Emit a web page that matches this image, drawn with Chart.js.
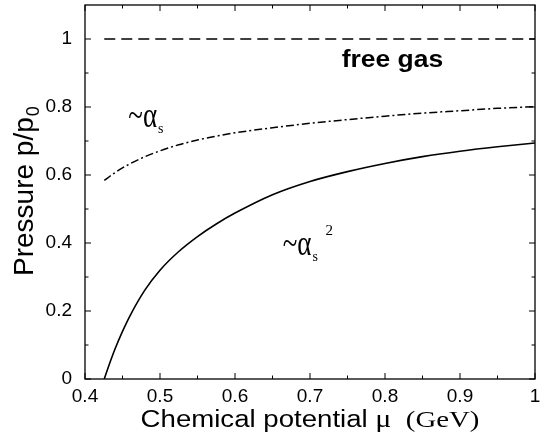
<!DOCTYPE html>
<html lang="en">
<head>
<meta charset="UTF-8">
<title>Pressure vs chemical potential</title>
<script src="https://cdn.jsdelivr.net/npm/chart.js"></script>
<style>
  html, body { margin: 0; padding: 0; background: #fff; }
  #wrap { width: 546px; height: 437px; position: relative; }
</style>
</head>
<body>
<div id="wrap"><canvas id="chart"></canvas></div>
<script>
// chemical potential mu (GeV)
const mu = [0.4257, 0.43, 0.44, 0.45, 0.46, 0.48, 0.5, 0.525, 0.55, 0.575, 0.6, 0.65, 0.7, 0.75, 0.8, 0.85, 0.9, 0.95, 1.0];
// p/p0 to order alpha_s^2 (solid)
const pAlphaS2 = [0, 0.028, 0.088, 0.140, 0.186, 0.262, 0.320, 0.375, 0.419, 0.456, 0.488, 0.542, 0.581, 0.610, 0.634, 0.654, 0.670, 0.683, 0.694];
// p/p0 to order alpha_s (dash-dot)
const pAlphaS = [0.584, 0.591, 0.607, 0.621, 0.633, 0.654, 0.671, 0.689, 0.703, 0.714, 0.724, 0.739, 0.752, 0.763, 0.773, 0.782, 0.789, 0.796, 0.801];
// free gas limit (dashed)
const freeMu = [0.4257, 1.0];
const freeP = [1, 1];

const xTicks = [0.4, 0.5, 0.6, 0.7, 0.8, 0.9, 1];
const xMinor = [0.45, 0.55, 0.65, 0.75, 0.85, 0.95];
const yTicks = [0, 0.2, 0.4, 0.6, 0.8, 1];
const yMinor = [0.1, 0.3, 0.5, 0.7, 0.9];

const pts = (xs, ys) => xs.map((x, i) => ({ x: x, y: ys[i] }));

// box around the plot with inward ticks on all four sides
const frame = {
  id: 'frame',
  afterDatasetsDraw(chart) {
    const { ctx, chartArea: a, scales: { x, y } } = chart;
    ctx.save();
    ctx.strokeStyle = '#000';
    ctx.lineWidth = 1.3;
    ctx.strokeRect(a.left, a.top, a.right - a.left, a.bottom - a.top);
    ctx.lineWidth = 1;
    ctx.beginPath();
    const xt = (v, len) => {
      const px = x.getPixelForValue(v);
      ctx.moveTo(px, a.bottom); ctx.lineTo(px, a.bottom - len);
      ctx.moveTo(px, a.top); ctx.lineTo(px, a.top + len);
    };
    const yt = (v, len) => {
      const py = y.getPixelForValue(v);
      ctx.moveTo(a.left, py); ctx.lineTo(a.left + len, py);
      ctx.moveTo(a.right, py); ctx.lineTo(a.right - len, py);
    };
    xTicks.forEach(v => xt(v, 6));
    xMinor.forEach(v => xt(v, 3.5));
    yTicks.forEach(v => yt(v, 6));
    yMinor.forEach(v => yt(v, 3.5));
    ctx.stroke();
    ctx.restore();
  }
};

// axis titles and curve labels
const labels = {
  id: 'labels',
  afterDraw(chart) {
    const { ctx, chartArea: a, scales: { x, y } } = chart;
    ctx.save();
    ctx.fillStyle = '#000';
    ctx.textBaseline = 'alphabetic';
    ctx.textAlign = 'left';

    // x title, stretched a little like the original
    const parts = [
      ['Chemical potential ', '23px "Liberation Sans", Arial, sans-serif'],
      ['\u03bc', '25px "Liberation Serif", "Times New Roman", serif'],
      ['  (GeV)', '24px "Liberation Serif", "Times New Roman", serif']
    ];
    let w = 0;
    parts.forEach(p => { ctx.font = p[1]; w += ctx.measureText(p[0]).width; });
    const sx = 1.2;
    ctx.save();
    ctx.translate((a.left + a.right) / 2 - w * sx / 2, 426.5);
    ctx.scale(sx, 1);
    let cx = 0;
    parts.forEach(p => { ctx.font = p[1]; ctx.fillText(p[0], cx, 0); cx += ctx.measureText(p[0]).width; });
    ctx.restore();

    // y title
    ctx.save();
    ctx.translate(33, 276);
    ctx.rotate(-Math.PI / 2);
    ctx.font = '28px "Liberation Sans", Arial, sans-serif';
    ctx.fillText('Pressure p/p', 0, 0);
    const yw = ctx.measureText('Pressure p/p').width;
    ctx.font = '18px "Liberation Sans", Arial, sans-serif';
    ctx.fillText('0', yw + 1, 6);
    ctx.restore();

    // free gas
    ctx.save();
    ctx.translate(x.getPixelForValue(0.7423), y.getPixelForValue(0.918));
    ctx.scale(1.15, 1);
    ctx.font = 'bold 23px "Liberation Sans", Arial, sans-serif';
    ctx.fillText('free gas', 0, 0);
    ctx.restore();

    // ~alpha_s and ~alpha_s^2 (alpha drawn taller, as in the original)
    const alpha = (vx, vy, sq) => {
      const px = x.getPixelForValue(vx), py = y.getPixelForValue(vy);
      ctx.save();
      ctx.translate(px, py);
      ctx.scale(1, 1.35);
      ctx.font = '27px "Liberation Serif", "Times New Roman", serif';
      ctx.fillText('~\u03b1', 0, 0);
      const aw = ctx.measureText('~\u03b1').width;
      ctx.restore();
      ctx.font = '14px "Liberation Serif", "Times New Roman", serif';
      ctx.fillText('s', px + aw + 1, py + 6);
      if (sq) {
        ctx.font = '15px "Liberation Serif", "Times New Roman", serif';
        ctx.fillText('2', px + aw + 14, py - 20);
      }
    };
    alpha(0.4577, 0.741, false);
    alpha(0.6636, 0.364, true);
    ctx.restore();
  }
};

const tickFont = { family: '"Liberation Sans", Arial, sans-serif', size: 19 };

new Chart(document.getElementById('chart'), {
  type: 'line',
  data: {
    datasets: [
      {
        label: 'free gas',
        data: pts(freeMu, freeP),
        borderColor: '#000', borderWidth: 1.4, borderDash: [11, 6],
        pointRadius: 0
      },
      {
        label: '~alpha_s',
        data: pts(mu, pAlphaS),
        borderColor: '#000', borderWidth: 1.5, borderDash: [8, 3, 2, 3],
        pointRadius: 0, cubicInterpolationMode: 'monotone'
      },
      {
        label: '~alpha_s^2',
        data: pts(mu, pAlphaS2),
        borderColor: '#000', borderWidth: 1.6,
        pointRadius: 0, cubicInterpolationMode: 'monotone'
      }
    ]
  },
  options: {
    responsive: true,
    maintainAspectRatio: false,
    animation: false,
    layout: { padding: { top: 5, right: 11, bottom: 0, left: 0 } },
    plugins: { legend: { display: false }, tooltip: { enabled: false } },
    scales: {
      x: {
        type: 'linear', min: 0.4, max: 1,
        grid: { display: false, drawTicks: false },
        border: { display: false },
        ticks: { font: tickFont, color: '#000', padding: 6, maxRotation: 0, callback: v => String(v) },
        afterBuildTicks: s => { s.ticks = xTicks.map(v => ({ value: v })); },
        afterFit: s => { s.height = 58; s.paddingLeft = 0; s.paddingRight = 0; }
      },
      y: {
        type: 'linear', min: 0, max: 1.1,
        grid: { display: false, drawTicks: false },
        border: { display: false },
        ticks: { font: tickFont, color: '#000', padding: 13, callback: v => String(v) },
        afterBuildTicks: s => { s.ticks = yTicks.map(v => ({ value: v })); },
        afterFit: s => { s.width = 85; s.paddingTop = 0; s.paddingBottom = 0; }
      }
    }
  },
  plugins: [frame, labels]
});
</script>
</body>
</html>
